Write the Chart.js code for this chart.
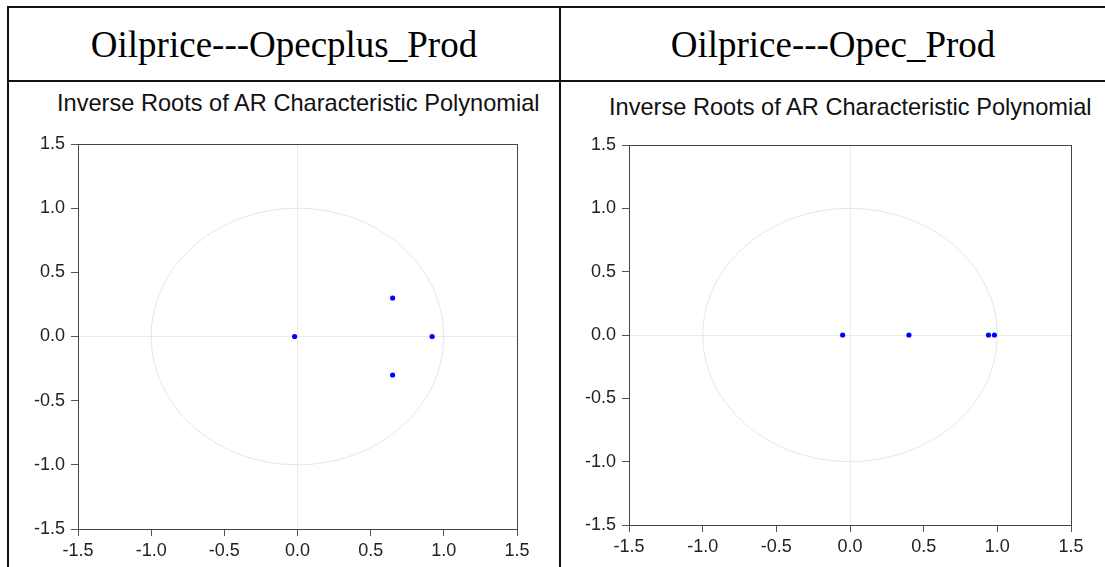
<!DOCTYPE html>
<html lang="en">
<head>
<meta charset="UTF-8">
<title>Inverse Roots of AR Characteristic Polynomial</title>
<style>
  body { margin: 0; background: #fff; width: 1105px; height: 567px; overflow: hidden; position: relative; font-family: "Liberation Sans", Arial, sans-serif; }
  .frame { position: absolute; left: 7px; top: 6px; width: 1110px; height: 620px; border: 2px solid #111; box-sizing: border-box; }
  .hline { position: absolute; left: 7px; top: 80px; width: 1100px; height: 2px; background: #111; }
  .vline { position: absolute; left: 559px; top: 6px; width: 2px; height: 620px; background: #111; }
  .head { position: absolute; top: 9px; height: 72px; line-height: 72px; text-align: center; font-family: "Liberation Serif", "Times New Roman", serif; font-size: 37px; color: #000; }
  .sub { position: absolute; font-size: 23.6px; line-height: 26px; color: #111; white-space: nowrap; }
  canvas { position: absolute; }
</style>
<script src="https://cdn.jsdelivr.net/npm/chart.js"></script>
</head>
<body>
  <div class="frame"></div>
  <div class="hline"></div>
  <div class="vline"></div>
  <div class="head" style="left:9px; width:550px;">Oilprice---Opecplus_Prod</div>
  <div class="head" style="left:561px; width:544px;">Oilprice---Opec_Prod</div>
  <div class="sub" style="left:57px; top:90px;">Inverse Roots of AR Characteristic Polynomial</div>
  <div class="sub" style="left:609px; top:94px;">Inverse Roots of AR Characteristic Polynomial</div>

  <canvas id="chartPlus" width="515" height="447" style="left:20px; top:120px;"></canvas>
  <canvas id="chartOpec" width="519" height="446" style="left:571px; top:121px;"></canvas>

<script>
// axis ticks (both axes)
const tickValues = [-1.5, -1.0, -0.5, 0.0, 0.5, 1.0, 1.5];

// inverse roots, Oilprice---Opecplus_Prod
const plusReal = [-0.02, 0.65, 0.65, 0.92];
const plusImag = [0.00, 0.30, -0.30, 0.00];

// inverse roots, Oilprice---Opec_Prod
const opecReal = [-0.05, 0.40, 0.94, 0.98];
const opecImag = [0.00, 0.00, 0.00, 0.00];

// unit circle + box around the plot
const unitCircle = {
    id: 'unitCircle',
    beforeDatasetsDraw(chart) {
        const { ctx, chartArea, scales: { x, y } } = chart;
        const cx = x.getPixelForValue(0), cy = y.getPixelForValue(0);
        ctx.save();
        ctx.strokeStyle = '#e6e6e6';
        ctx.lineWidth = 1;
        ctx.beginPath();
        ctx.ellipse(cx, cy, x.getPixelForValue(1) - cx, cy - y.getPixelForValue(1), 0, 0, Math.PI * 2);
        ctx.stroke();
        ctx.strokeStyle = '#444';
        ctx.strokeRect(Math.round(chartArea.left) + 0.5, Math.round(chartArea.top) + 0.5,
                       Math.round(chartArea.width), Math.round(chartArea.height));
        ctx.restore();
    }
};

function axis(isX, size) {
    return {
        type: 'linear',
        min: -1.5,
        max: 1.5,
        afterBuildTicks: s => { s.ticks = tickValues.map(v => ({ value: v })); },
        afterFit: s => { if (isX) s.height = size; else s.width = size; },
        ticks: {
            color: '#222',
            padding: isX ? 4 : 6,
            font: { family: '"Liberation Sans", Arial, sans-serif', size: 18 },
            callback: v => Number(v).toFixed(1)
        },
        grid: {
            color: c => (c.tick && c.tick.value === 0) ? '#ebebeb' : 'rgba(0,0,0,0)',
            tickColor: '#555',
            tickLength: 7
        },
        border: { display: true, color: '#555', width: 1 }
    };
}

function makeChart(id, re, im, pad, xH) {
    const pts = re.map((v, i) => ({ x: v, y: im[i] }));
    return new Chart(document.getElementById(id), {
        type: 'scatter',
        data: {
            datasets: [{
                data: pts,
                backgroundColor: '#0000ff',
                borderWidth: 0,
                pointRadius: 2.6
            }]
        },
        options: {
            responsive: false,
            animation: false,
            devicePixelRatio: 1,
            layout: { padding: pad },
            plugins: { legend: { display: false }, tooltip: { enabled: false } },
            scales: { x: axis(true, xH), y: axis(false, 58) }
        },
        plugins: [unitCircle]
    });
}

makeChart('chartPlus', plusReal, plusImag, { top: 24, right: 18, bottom: 0, left: 0 }, 38);
makeChart('chartOpec', opecReal, opecImag, { top: 24, right: 19, bottom: 0, left: 0 }, 42);
</script>
</body>
</html>
